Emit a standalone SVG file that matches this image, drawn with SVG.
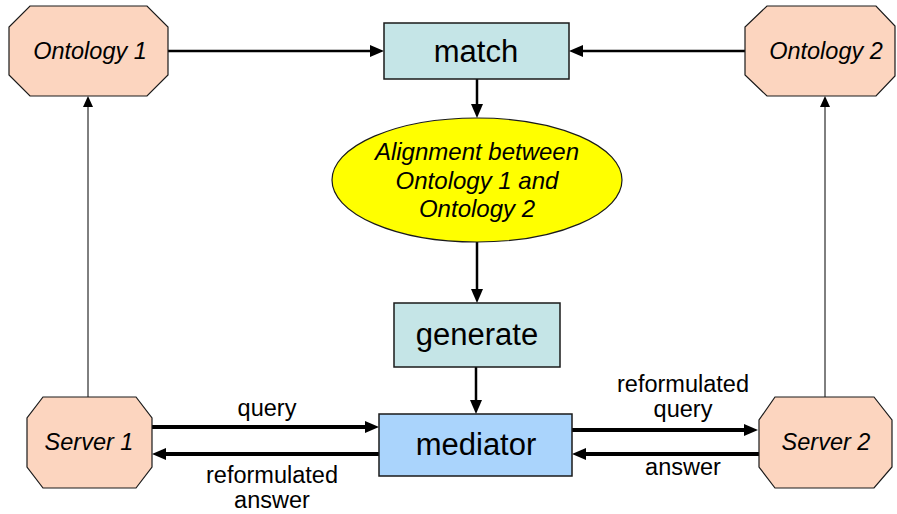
<svg xmlns="http://www.w3.org/2000/svg" width="897" height="514" viewBox="0 0 897 514">
<style>
.oct{fill:#fcd5bf;stroke:#1a1a1a;stroke-width:1.2}
.box{fill:#c5e5e7;stroke:#1a1a1a;stroke-width:1.5}
.med{fill:#aad4fc;stroke:#1a1a1a;stroke-width:1.5}
.ell{fill:#ffff00;stroke:#1a1a1a;stroke-width:1.2}
text{font-family:"Liberation Sans",Arial,sans-serif;fill:#000;text-anchor:middle}
.it{font-style:italic;font-size:23.5px}
.ie{font-style:italic;font-size:24px}
.big{font-size:31px}
.lbl{font-size:23.5px}
.c{fill:none;stroke:#000}
.th{stroke-width:2.5}
.tk{stroke-width:4}
.tn{stroke-width:1}
</style>
<defs>
<marker id="ah" viewBox="0 0 14 12" markerWidth="14" markerHeight="12" refX="2" refY="6" orient="auto" markerUnits="userSpaceOnUse"><path d="M0,0 L14,6 L0,12 z" fill="#000"/></marker>
<marker id="ahs" viewBox="0 0 11 10" markerWidth="11" markerHeight="10" refX="1" refY="5" orient="auto" markerUnits="userSpaceOnUse"><path d="M0,0 L11,5 L0,10 z" fill="#000"/></marker>
</defs>
<g id="connectors">
<path class="c th" d="M168,51 H372" marker-end="url(#ah)"/>
<path class="c th" d="M745,51 H581" marker-end="url(#ah)"/>
<path class="c th" d="M477,79 V106" marker-end="url(#ah)"/>
<path class="c th" d="M477,242 V291" marker-end="url(#ah)"/>
<path class="c th" d="M476,367 V402" marker-end="url(#ah)"/>
<path class="c tn" d="M88,397 V106" marker-end="url(#ahs)"/>
<path class="c tn" d="M825,397 V106" marker-end="url(#ahs)"/>
<path class="c tk" d="M152,427 H367" marker-end="url(#ah)"/>
<path class="c tk" d="M379,454 H164" marker-end="url(#ah)"/>
<path class="c tk" d="M570,430 H746" marker-end="url(#ah)"/>
<path class="c tk" d="M759,454 H584" marker-end="url(#ah)"/>
<text class="lbl" x="267" y="416">query</text>
<text class="lbl" x="272" y="483">reformulated</text>
<text class="lbl" x="272" y="508">answer</text>
<text class="lbl" x="683" y="392">reformulated</text>
<text class="lbl" x="683" y="417">query</text>
<text class="lbl" x="683" y="475">answer</text>
</g>
<g id="ontology1">
<polygon class="oct" points="30,6 147,6 168,27 168,75 147,96 30,96 9,75 9,27"/>
<text class="it" x="90" y="59">Ontology 1</text>
</g>
<g id="ontology2">
<polygon class="oct" points="767,6 876,6 895,26 895,76 876,96 767,96 745,75 745,27"/>
<text class="it" x="826" y="59">Ontology 2</text>
</g>
<g id="match">
<rect class="box" x="384" y="23" width="185" height="56"/>
<text class="big" x="476" y="62">match</text>
</g>
<g id="alignment">
<ellipse class="ell" cx="477" cy="180" rx="145" ry="62"/>
<text class="ie" x="477" y="160">Alignment between</text>
<text class="ie" x="477" y="189">Ontology 1 and</text>
<text class="ie" x="477" y="217">Ontology 2</text>
</g>
<g id="generate">
<rect class="box" x="394" y="303" width="166" height="64"/>
<text class="big" x="477" y="345">generate</text>
</g>
<g id="mediator">
<rect class="med" x="379" y="414" width="193" height="62"/>
<text class="big" x="476" y="455">mediator</text>
</g>
<g id="server1">
<polygon class="oct" points="43,397 136,397 152,418 152,467 136,488 43,488 27,467 27,418"/>
<text class="it" x="89" y="450">Server 1</text>
</g>
<g id="server2">
<polygon class="oct" points="775,397 874,397 892,420 892,467 874,488 775,488 759,467 759,420"/>
<text class="it" x="826" y="450">Server 2</text>
</g>
</svg>
